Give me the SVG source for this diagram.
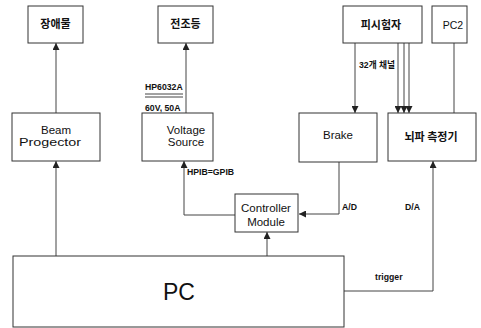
<svg xmlns="http://www.w3.org/2000/svg" width="481" height="328" viewBox="0 0 481 328">
<style>
.box{fill:#fff;stroke:#333;stroke-width:1}
.ln{fill:none;stroke:#444;stroke-width:1}
.t{font-family:"Liberation Sans",Arial,sans-serif;font-size:11.5px;fill:#111;text-anchor:middle}
.k{font-family:"Noto Sans CJK KR","Noto Sans",sans-serif;font-size:11px;font-weight:bold;fill:#111;text-anchor:middle}
.s{font-family:"Liberation Sans",Arial,sans-serif;font-size:8.7px;font-weight:bold;fill:#111}
.sk{font-family:"Liberation Sans","Noto Sans CJK KR",sans-serif;font-size:8.7px;font-weight:bold;fill:#111}
</style>
<defs>
<marker id="ah" viewBox="0 0 8 8" refX="8" refY="4" markerWidth="7" markerHeight="7" markerUnits="userSpaceOnUse" orient="auto">
<path d="M0,0 L8,4 L0,8 z" fill="#222"/>
</marker>
</defs>
<rect width="481" height="328" fill="#fff"/>
<g id="connectors">
<line class="ln" x1="56" y1="113" x2="56" y2="43" marker-end="url(#ah)"/>
<line class="ln" x1="186" y1="113" x2="186" y2="43" marker-end="url(#ah)"/>
<line class="ln" x1="56" y1="256" x2="56" y2="161" marker-end="url(#ah)"/>
<line class="ln" x1="267" y1="256" x2="267" y2="232" marker-end="url(#ah)"/>
<polyline class="ln" points="235,215 184,215 184,161" marker-end="url(#ah)"/>
<polyline class="ln" points="339,162 339,214 299,214" marker-end="url(#ah)"/>
<polyline class="ln" points="344,291 433,291 433,161" marker-end="url(#ah)"/>
<line class="ln" x1="355" y1="43" x2="355" y2="113" marker-end="url(#ah)"/>
<line class="ln" x1="398" y1="43" x2="398" y2="113" marker-end="url(#ah)"/>
<line class="ln" x1="404" y1="43" x2="404" y2="113" marker-end="url(#ah)"/>
<line class="ln" x1="409" y1="43" x2="409" y2="113" marker-end="url(#ah)"/>
<line class="ln" x1="454" y1="43" x2="454" y2="113"/>
<line class="ln" x1="145" y1="94" x2="183" y2="94"/>
<line class="ln" x1="145" y1="97" x2="183" y2="97"/>
<text class="s" x="145" y="90">HP6032A</text>
<text class="s" x="145" y="111">60V, 50A</text>
<text class="s" x="187" y="175">HPIB=GPIB</text>
<text class="s" x="342" y="210">A/D</text>
<text class="s" x="405" y="210">D/A</text>
<text class="s" x="375" y="280">trigger</text>
<text class="sk" x="359" y="68">32개 채널</text>
</g>
<g id="obstacle"><rect class="box" x="28" y="6" width="55" height="37"/><text class="k" x="55.5" y="28">장애물</text></g>
<g id="headlight"><rect class="box" x="158" y="6" width="55" height="37"/><text class="k" x="185.5" y="28">전조등</text></g>
<g id="subject"><rect class="box" x="343" y="6" width="79" height="37"/><text class="k" x="381" y="29">피시험자</text></g>
<g id="pc2"><rect class="box" x="432" y="6" width="35" height="37"/><text class="t" x="453" y="29" style="font-size:10.5px">PC2</text></g>
<g id="beam"><rect class="box" x="12" y="113" width="88" height="48"/><text class="t" x="56" y="134">Beam</text><text class="t" x="50" y="146" textLength="62" lengthAdjust="spacingAndGlyphs">Progector</text></g>
<g id="voltage"><rect class="box" x="142" y="113" width="71" height="48"/><text class="t" x="186" y="134">Voltage</text><text class="t" x="186" y="146">Source</text></g>
<g id="brake"><rect class="box" x="299" y="113" width="78" height="49"/><text class="t" x="338" y="139">Brake</text></g>
<g id="eeg"><rect class="box" x="388" y="113" width="88" height="48"/><text class="k" x="431" y="141">뇌파 측정기</text></g>
<g id="controller"><rect class="box" x="235" y="194" width="63" height="38"/><text class="t" x="266" y="212">Controller</text><text class="t" x="266" y="226">Module</text></g>
<g id="pc"><rect class="box" x="13" y="256" width="331" height="71"/><text class="t" x="179" y="300" style="font-size:23px">PC</text></g>
</svg>
